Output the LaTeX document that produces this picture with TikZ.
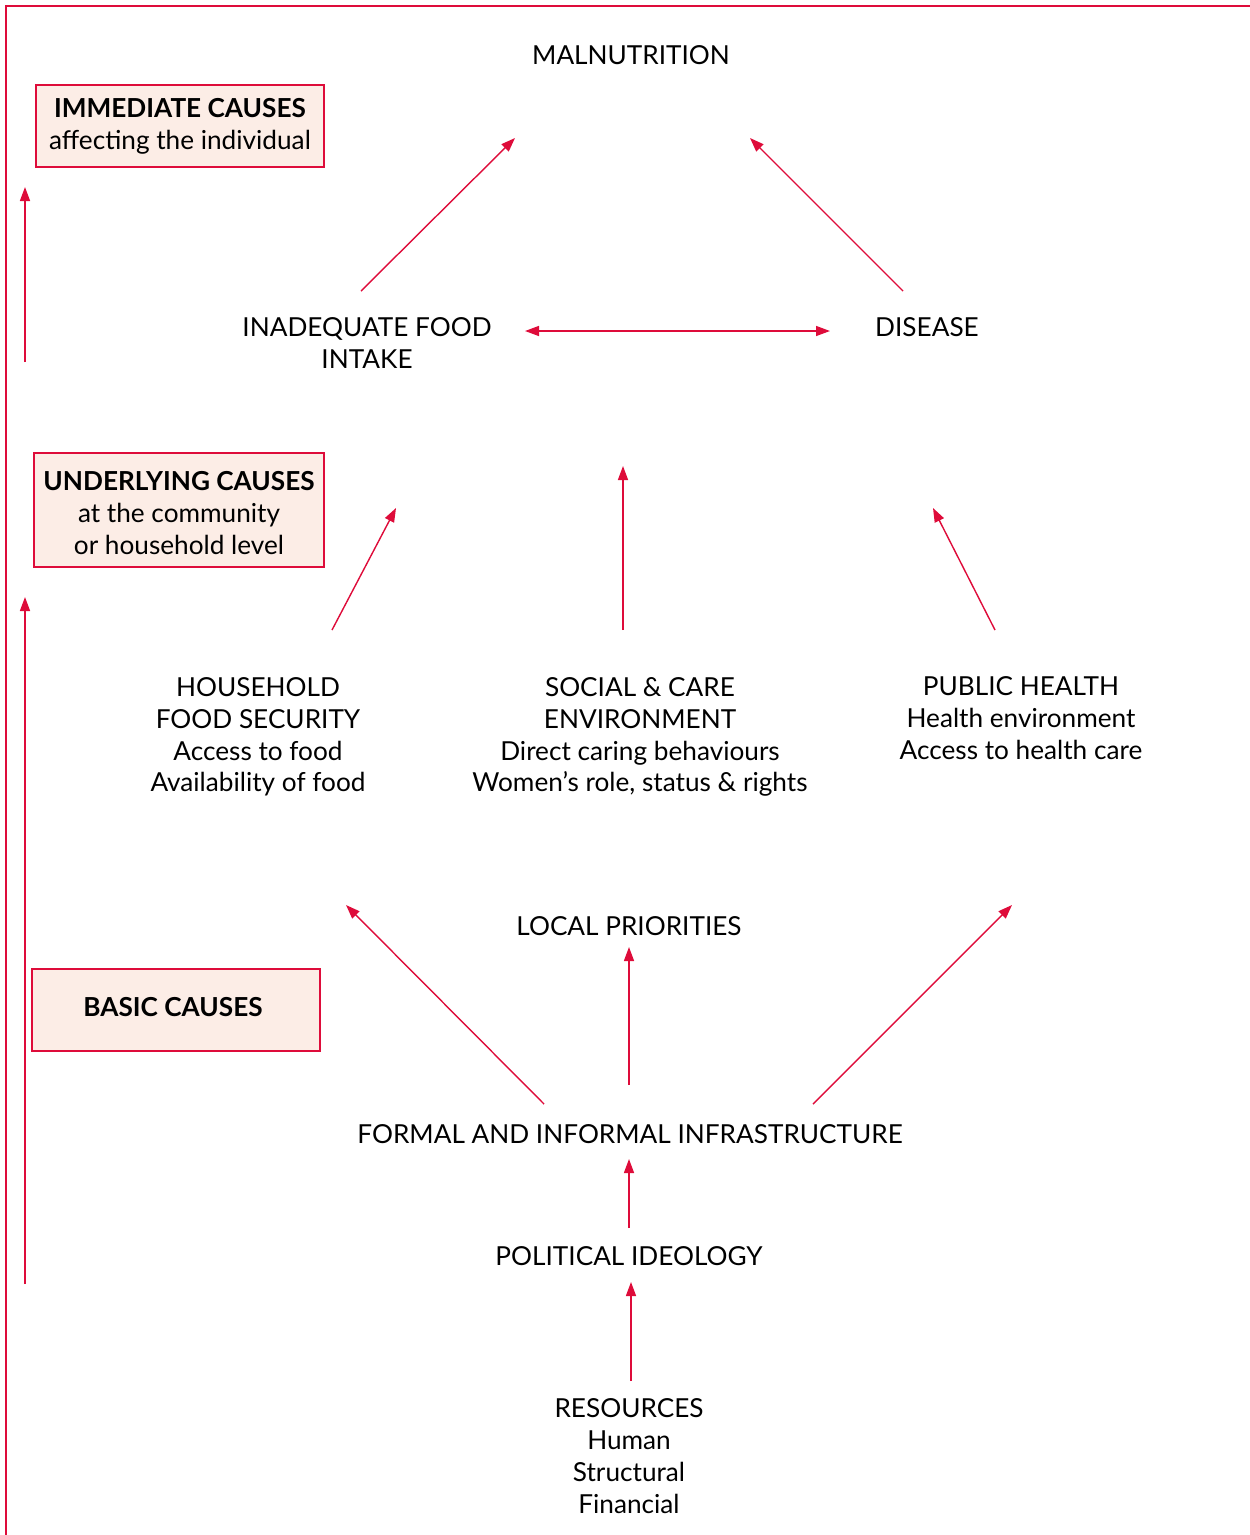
\documentclass[tikz,border=0pt]{standalone}
\usepackage{fontspec}
\setmainfont{Lato}
\usetikzlibrary{arrows.meta}
\definecolor{crim}{RGB}{222,12,58}
\definecolor{boxfill}{RGB}{252,237,230}
\tikzset{
  lbl/.style={font=\fontsize{14.9}{18.1}\selectfont, align=center, inner sep=0pt},
  causebox/.style={draw=crim, line width=1.4pt, fill=boxfill, inner sep=0pt, align=center, font=\fontsize{14.9}{18.1}\selectfont},
  arr/.style={draw=crim, line width=0.8pt, -{Triangle[length=0.28cm,width=0.2cm]}},
  darr/.style={draw=crim, line width=0.8pt, {Triangle[length=0.28cm,width=0.2cm]}-{Triangle[length=0.28cm,width=0.2cm]}},
}
\begin{document}
\begin{tikzpicture}[x=0.02cm,y=-0.02cm]
\useasboundingbox (0,0) rectangle (1250,1535);
% frame
\draw[crim, line width=1.4pt] (1250,6) -- (6,6) -- (6,1535);
% cause boxes
\node[causebox, minimum width=288*0.02cm, minimum height=82*0.02cm] (imm) at (180,126) {\textbf{IMMEDIATE CAUSES}\\affecting the individual};
\node[causebox, minimum width=290*0.02cm, minimum height=114*0.02cm] (und) at (179,510) {};
\node[lbl] (undt) at (179,513) {\textbf{UNDERLYING CAUSES}\\at the community\\or household level};
\node[causebox, minimum width=288*0.02cm, minimum height=82*0.02cm] (bas) at (176,1010) {};
\node[lbl] (bast) at (173,1007) {\textbf{BASIC CAUSES}};
% left arrows
\coordinate (l1s) at (25,362); \coordinate (l1e) at (25,187);
\coordinate (l2s) at (25,1284); \coordinate (l2e) at (25,597);
\draw[arr] (l1s) -- (l1e);
\draw[arr] (l2s) -- (l2e);
% text nodes
\node[lbl] (mal) at (631,55) {MALNUTRITION};
\node[lbl] (ifi) at (367,343) {INADEQUATE FOOD\\INTAKE};
\node[lbl] (dis) at (927,327) {DISEASE};
\node[lbl] (hfs) at (258,737) {HOUSEHOLD\\FOOD SECURITY\\Access to food\\Availability of food};
\node[lbl] (sce) at (640,737) {SOCIAL \& CARE\\ENVIRONMENT\\Direct caring behaviours\\Women’s role, status \& rights};
\node[lbl] (phe) at (1021,718) {PUBLIC HEALTH\\Health environment\\Access to health care};
\node[lbl] (lop) at (629,926) {LOCAL PRIORITIES};
\node[lbl] (ffi) at (630,1134) {FORMAL AND INFORMAL INFRASTRUCTURE};
\node[lbl] (pol) at (629,1256) {POLITICAL IDEOLOGY};
\node[lbl] (res) at (629,1456) {RESOURCES\\Human\\Structural\\Financial};
% connector endpoints
\coordinate (a1s) at (361,291); \coordinate (a1e) at (515,138);
\coordinate (a2s) at (903,291); \coordinate (a2e) at (750,138);
\coordinate (d1) at (525,331); \coordinate (d2) at (830,331);
\coordinate (b1s) at (332,630); \coordinate (b1e) at (396,508);
\coordinate (b2s) at (623,630); \coordinate (b2e) at (623,466);
\coordinate (b3s) at (995,630); \coordinate (b3e) at (933,508);
\coordinate (c1s) at (544,1104); \coordinate (c1e) at (346,905);
\coordinate (c2s) at (629,1085); \coordinate (c2e) at (629,947);
\coordinate (c3s) at (813,1104); \coordinate (c3e) at (1012,905);
\coordinate (e1s) at (629,1228); \coordinate (e1e) at (629,1159);
\coordinate (e2s) at (631,1381); \coordinate (e2e) at (631,1282);
\draw[arr] (a1s) -- (a1e);
\draw[arr] (a2s) -- (a2e);
\draw[darr] (d1) -- (d2);
\draw[arr] (b1s) -- (b1e);
\draw[arr] (b2s) -- (b2e);
\draw[arr] (b3s) -- (b3e);
\draw[arr] (c1s) -- (c1e);
\draw[arr] (c2s) -- (c2e);
\draw[arr] (c3s) -- (c3e);
\draw[arr] (e1s) -- (e1e);
\draw[arr] (e2s) -- (e2e);
\end{tikzpicture}
\end{document}
